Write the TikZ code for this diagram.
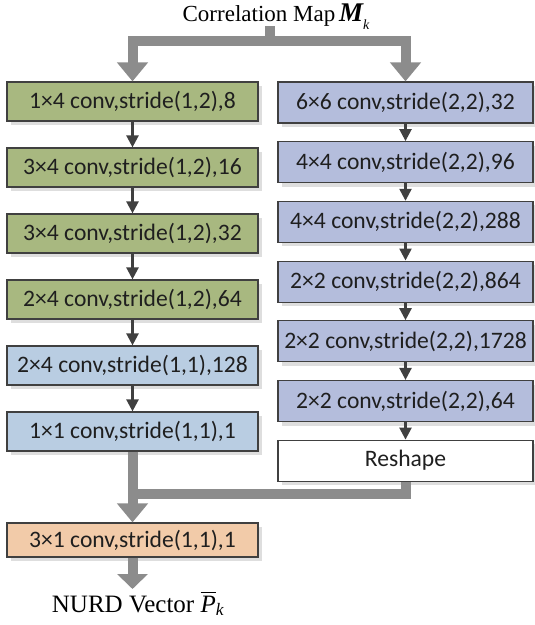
\documentclass[tikz,border=0pt]{standalone}
\usepackage{amsmath}
\usepackage{fontspec}
\setmainfont{Liberation Serif}
\newfontfamily\boxfont{Carlito}
\usetikzlibrary{arrows.meta,shadows,calc}
\definecolor{cgreen}{HTML}{A8B880}
\definecolor{cblue}{HTML}{B9CDE2}
\definecolor{clav}{HTML}{B4BDDC}
\definecolor{corange}{HTML}{F2CBA9}
\definecolor{cborder}{HTML}{404040}
\definecolor{cthick}{HTML}{8C8C8C}
\definecolor{cthin}{HTML}{404040}
\begin{document}
\begin{tikzpicture}[x=1pt,y=-1pt,
  box/.style={draw=cborder, line width=1.2pt, inner sep=0pt, text=black!88,
    font=\boxfont\fontsize{23.6}{27}\selectfont,
    drop shadow={shadow xshift=4pt, shadow yshift=-4pt, fill=black!13, opacity=1}},
  lbox/.style={box, minimum width=251pt, minimum height=39pt},
  rbox/.style={box, minimum width=255pt, minimum height=41pt},
  thin/.style={draw=cthin, line width=2.4pt, -{Triangle[width=12pt,length=12pt]}},
  thick/.style={draw=cthick, line width=10pt, line join=miter},
  thickarrow/.style={thick, -{Triangle[width=30pt,length=19pt]}},
  lbl/.style={font=\fontsize{23}{27}\selectfont, inner sep=0pt}
]
\useasboundingbox (0,0) rectangle (535,625);

% left column
\node[lbox, fill=cgreen] (l1) at (132.5,101.5) {1×4 conv,stride(1,2),8};
\node[lbox, fill=cgreen] (l2) at (132.5,167.5) {3×4 conv,stride(1,2),16};
\node[lbox, fill=cgreen] (l3) at (132.5,233.5) {3×4 conv,stride(1,2),32};
\node[lbox, fill=cgreen] (l4) at (132.5,299.5) {2×4 conv,stride(1,2),64};
\node[lbox, fill=cblue] (l5) at (132.5,365.5) {2×4 conv,stride(1,1),128};
\node[lbox, fill=cblue] (l6) at (132.5,431.5) {1×1 conv,stride(1,1),1};
\node[lbox, fill=corange, minimum height=34pt] (o1) at (132.5,540) {3×1 conv,stride(1,1),1};

% right column
\node[rbox, fill=clav] (r1) at (405.5,102.5) {6×6 conv,stride(2,2),32};
\node[rbox, fill=clav] (r2) at (405.5,162.2) {4×4 conv,stride(2,2),96};
\node[rbox, fill=clav] (r3) at (405.5,221.9) {4×4 conv,stride(2,2),288};
\node[rbox, fill=clav] (r4) at (405.5,281.6) {2×2 conv,stride(2,2),864};
\node[rbox, fill=clav] (r5) at (405.5,341.3) {2×2 conv,stride(2,2),1728};
\node[rbox, fill=clav] (r6) at (405.5,401.0) {2×2 conv,stride(2,2),64};
\node[rbox, fill=white] (r7) at (405.5,460.7) {Reshape};

% title and output labels
\node[lbl, anchor=base] (title) at (276,21) {Correlation Map\,{\fontsize{27}{27}\selectfont\bfseries\itshape M}\raisebox{-8pt}{\fontsize{14}{14}\selectfont\itshape k}};
\node[lbl, anchor=base, font=\fontsize{25}{29}\selectfont] (out) at (138,612) {NURD Vector $\overline{\textit{P}}_{\textit{k}}$};

% thick connectors at top
\coordinate (j1) at (269.5,41);
\draw[thick, line cap=butt] (269.5,26) -- (j1);
\draw[thickarrow] (j1) -| (l1.north);
\draw[thickarrow] (j1) -| (r1.north);

% thin arrows
\draw[thin] (l1) -- (l2);
\draw[thin] (l2) -- (l3);
\draw[thin] (l3) -- (l4);
\draw[thin] (l4) -- (l5);
\draw[thin] (l5) -- (l6);
\draw[thin] (r1) -- (r2);
\draw[thin] (r2) -- (r3);
\draw[thin] (r3) -- (r4);
\draw[thin] (r4) -- (r5);
\draw[thin] (r5) -- (r6);
\draw[thin] (r6) -- (r7);

% merge at bottom
\coordinate (j2) at (132.5,494);
\draw[thick] (r7.south) |- (j2);
\draw[thickarrow] (l6.south) -- (o1.north);
\coordinate (tip) at (132.5,589);
\draw[thick, -{Triangle[width=30pt,length=15pt]}] (o1.south) -- (tip);
\end{tikzpicture}
\end{document}
